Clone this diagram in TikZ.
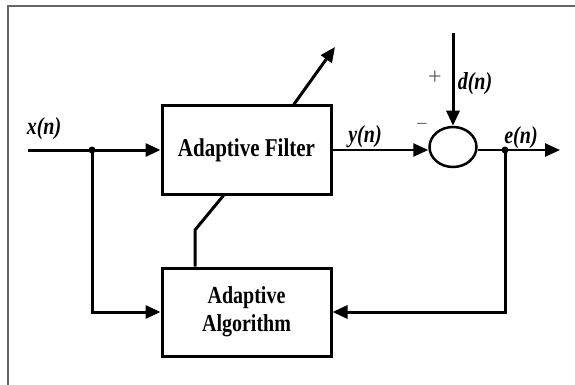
\documentclass[tikz,border=0pt]{standalone}
\usepackage{fontspec}
\setmainfont{Liberation Serif}
\usetikzlibrary{arrows.meta,shapes.geometric,calc}
\newcommand{\tallt}[1]{\scalebox{1}[1.22]{#1}}
\begin{document}
\begin{tikzpicture}[x=1pt,y=-1pt,
  line/.style={line width=3pt},
  thin line/.style={line width=2.5pt},
  tip/.style={-{Triangle[length=15pt,width=13pt]}},
  blk/.style={draw,line width=3pt,minimum width=169pt,minimum height=88pt,inner sep=0pt,align=center,font=\fontsize{21}{28}\selectfont\bfseries},
  sig/.style={font=\fontsize{20}{24}\selectfont\bfseries\itshape},
  sgn/.style={font=\fontsize{24}{24}\selectfont, text=black!65},
  jdot/.style={circle,fill,inner sep=0pt,minimum size=7pt}
]
\useasboundingbox (0,0) rectangle (575,385);
\draw[black!60,line width=2pt] (8,385) -- (8,6) -- (575,6);
\node[blk] (filter) at (246.5,150) {\tallt{Adaptive Filter}};
\node[blk,font=\fontsize{20}{28}\selectfont\bfseries] (algo) at (246.5,312) {\tallt{Adaptive}\\\tallt{Algorithm}};
\node[draw,ellipse,line width=2.5pt,minimum width=47pt,minimum height=40pt,inner sep=0pt] (sum) at (453,147) {};
\coordinate (xin) at (28,150);
\node[jdot] (j1) at (92,150) {};
\draw[line,tip] (xin) -- (filter.west);
\draw[line,tip] (j1.center) |- (algo.west);
\draw[thin line,tip] (filter.east) -- (filter.east -| sum.west);
\coordinate (dtop) at (453,33);
\draw[line,tip] (dtop) -- (sum.north);
\coordinate (out) at (560,150);
\node[jdot] (j2) at (505,150) {};
\draw[thin line,tip] (out -| sum.east) -- (out);
\draw[line,tip] (j2.center) |- (algo.east);
\coordinate (atip) at (335,47);
\draw[line,tip] ($(filter.north west)!0.775!(filter.north east)$) -- (atip);
\coordinate (knee) at (195,230);
\draw[line] (algo.north -| knee) -- (knee) -- ($(filter.south west)!0.366!(filter.south east)$);
\node[sig] (xl) at (44,129) {\tallt{x(n)}};
\node[sig] (yl) at (365,137) {\tallt{y(n)}};
\node[sig] (dl) at (475,84) {\tallt{d(n)}};
\node[sig] (el) at (521,138) {\tallt{e(n)}};
\node[sgn] (plus) at (435,78) {+};
\node[sgn,font=\fontsize{20}{20}\selectfont] (minus) at (422,127) {−};
\end{tikzpicture}
\end{document}
